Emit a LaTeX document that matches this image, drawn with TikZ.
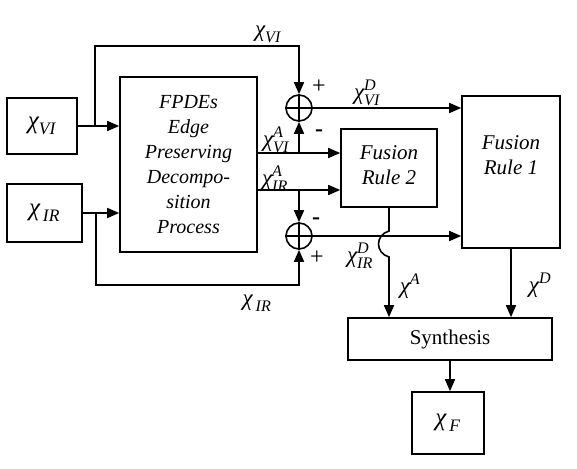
\documentclass[tikz,border=0pt]{standalone}
\usepackage{amsmath}
\usepackage{fontspec}
\setmainfont{Liberation Serif}
\usetikzlibrary{arrows.meta}
\newcommand{\chx}{\textit{χ}}
\begin{document}
\begin{tikzpicture}[x=1pt,y=-1pt,
  blk/.style={draw, line width=1.6pt, inner sep=0pt},
  sumc/.style={draw, circle, line width=1.6pt, minimum size=26pt, inner sep=0pt},
  conn/.style={line width=1.6pt, -{Triangle[length=12pt,width=10pt]}},
  wire/.style={line width=1.3pt},
  txt/.style={font=\fontsize{21}{25}\selectfont, align=center},
  boxlbl/.style={font=\fontsize{25}{30}\selectfont},
  lbl/.style={font=\fontsize{23}{26}\selectfont, inner sep=0pt},
  sgn/.style={font=\fontsize{24}{24}\selectfont, inner sep=0pt},
  sgnm/.style={font=\fontsize{24}{24}\selectfont\bfseries, inner sep=0pt}]
\useasboundingbox (0,0) rectangle (577,468);

% boxes
\node[blk, minimum width=70pt, minimum height=56pt, boxlbl] (xvi) at (42,126) {$\chx_{\textit{VI}}$};
\node[blk, minimum width=75pt, minimum height=58pt, boxlbl] (xir) at (44.5,213) {$\chx_{\,\textit{IR}}$};
\node[blk, minimum width=137pt, minimum height=175pt, txt, font=\fontsize{20}{25}\selectfont\itshape] (fpde) at (188.5,164.5)
  {FPDEs\\Edge\\Preserving\\Decompo-\\sition\\Process};
\node[blk, minimum width=96pt, minimum height=78pt] (fr2) at (389,168) {};
\node[txt, font=\fontsize{21}{25}\selectfont\itshape] (fr2t) at (389,165) {Fusion\\Rule 2};
\node[blk, minimum width=98pt, minimum height=152pt] (fr1) at (511,172) {};
\node[txt, font=\fontsize{21}{25}\selectfont\itshape] (fr1t) at (511,155) {Fusion\\Rule 1};
\node[blk, minimum width=204pt, minimum height=42pt, txt] (syn) at (450,339) {Synthesis};
\node[blk, minimum width=72pt, minimum height=62pt, boxlbl] (xf) at (448,423) {$\chx_{\,\textit{F}}$};

% summing junctions
\node[sumc] (s1) at (299,108) {};
\node[sumc] (s2) at (299,236) {};
\draw[wire] (s1.north) -- (s1.south) (s1.west) -- (s1.east);
\draw[wire] (s2.north) -- (s2.south) (s2.west) -- (s2.east);

% coordinates
\coordinate (jv) at (95,126);
\coordinate (tv) at (95,46);
\coordinate (ji) at (96,213);
\coordinate (ti) at (96,285);
\coordinate (a1) at (257,153);
\coordinate (a2) at (257,190);
\coordinate (h1) at (389,231);
\coordinate (h2) at (389,257);

% connectors
\draw[conn] (xvi.east) -- (fpde.west |- xvi.east);
\draw[conn] (jv) -- (tv) -| (s1.north);
\draw[conn] (xir.east) -- (fpde.west |- xir.east);
\draw[conn] (ji) -- (ti) -| (s2.south);
\draw[conn] (a1) -- (a1 -| fr2.west);
\draw[conn] (a1 -| s1) -- (s1.south);
\draw[conn] (a2) -- (a2 -| fr2.west);
\draw[conn] (a2 -| s2) -- (s2.north);
\draw[conn] (s1.east) -- (s1.east -| fr1.west);
\draw[conn] (s2.east) -- (s2.east -| fr1.west);
\draw[conn] (fr2.south) -- (h1) .. controls (375,235) and (375,253) .. (h2) -- (fr2.south |- syn.north);
\draw[conn] (fr1.south) -- (fr1.south |- syn.north);
\draw[conn] (syn.south) -- (syn.south |- xf.north);

% labels
\node[lbl] (l1) at (268,34) {$\chx_{\textit{VI}}$};
\node[sgn] (p1) at (319,87) {+};
\node[lbl] (l2) at (367,93) {$\chx_{\textit{VI}}^{\textit{D}}$};
\node[lbl] (l3) at (276,140) {$\chx_{\textit{VI}}^{\textit{A}}$};
\node[sgnm] (m1) at (319,133) {-};
\node[lbl] (l4) at (275,179) {$\chx_{\textit{IR}}^{\textit{A}}$};
\node[sgnm] (m2) at (316,221) {-};
\node[sgn] (p2) at (317,258) {+};
\node[lbl] (l5) at (360,256) {$\chx_{\textit{IR}}^{\textit{D}}$};
\node[lbl] (l6) at (410,286) {$\chx^{\textit{A}}$};
\node[lbl] (l7) at (540,285) {$\chx^{\textit{D}}$};
\node[lbl] (l8) at (257,303) {$\chx_{\,\textit{IR}}$};
\end{tikzpicture}
\end{document}
